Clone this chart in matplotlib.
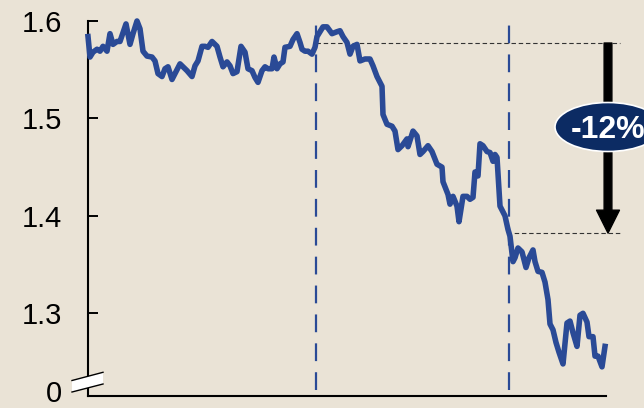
import numpy as np
import matplotlib
matplotlib.use("Agg")
import matplotlib.pyplot as plt
import matplotlib.patches as mpatches
from matplotlib.lines import Line2D

plt.rcParams['font.family'] = ['Liberation Sans', 'DejaVu Sans']

# Weekly series (week index, value)
weeks = [0, 0.5, 1.25, 2.25, 3, 3.75, 4.75, 5.5, 6.25, 7.25, 8, 9.5, 10.5, 11.25, 12.25,
         13, 13.75, 14.75, 16, 16.75, 17.5, 18.5, 19.25, 20, 21, 21.75, 23, 23.75, 24.75,
         26, 26.75, 27.5, 28.5, 29.25, 30, 31, 32.25, 33, 33.75, 34.75, 35.5, 36.25, 37.25,
         38.25, 39.25, 40, 41, 41.75, 42.5, 43.5, 44.25, 45, 46, 46.5, 47.25, 48, 48.75,
         49.25, 50.5, 51.25, 52.25, 53, 53.5, 54.25, 55, 56, 56.75, 57.25, 58, 58.75, 59.75,
         61, 62.25, 63, 63.75, 64.75, 65.5, 66.25, 67.25, 68, 69.25, 70.5, 71.25, 72.25,
         73.5, 73.75, 74.75, 76, 76.75, 77.5, 78.5, 79.75, 80, 81.25, 82.25, 83, 83.75, 85,
         86, 87.25, 88.5, 88.75, 90, 90.5, 91.25, 92.25, 92.75, 93.75, 94.75, 95.5, 96.25,
         96.75, 97.5, 98, 98.75, 99.75, 100.5, 101.25, 101.75, 102.25, 103, 104.25, 105,
         105.5, 106.25, 106.75, 107.5, 108.5, 109.5, 110.25, 111.25, 111.75, 112.5, 113.5,
         114.25, 115, 115.5, 116.25, 117, 117.75, 118.75, 119.75, 120.5, 121.25, 122.25,
         123, 123.75, 124.75, 125.25, 126.25, 126.75, 127.5, 128.5, 129.25]
values = [1.584, 1.563, 1.568, 1.571, 1.569, 1.574, 1.569, 1.587, 1.576, 1.579, 1.579, 1.597,
          1.576, 1.587, 1.600, 1.592, 1.569, 1.564, 1.563, 1.559, 1.546, 1.543, 1.551, 1.553,
          1.540, 1.546, 1.556, 1.553, 1.549, 1.543, 1.554, 1.559, 1.574, 1.574, 1.573, 1.579,
          1.574, 1.563, 1.553, 1.558, 1.554, 1.546, 1.548, 1.574, 1.568, 1.551, 1.549, 1.542,
          1.537, 1.549, 1.553, 1.551, 1.551, 1.563, 1.551, 1.556, 1.558, 1.573, 1.574, 1.581,
          1.587, 1.578, 1.571, 1.569, 1.569, 1.566, 1.573, 1.584, 1.589, 1.594, 1.594, 1.587,
          1.589, 1.590, 1.584, 1.578, 1.566, 1.574, 1.576, 1.559, 1.561, 1.561, 1.554, 1.543,
          1.533, 1.504, 1.494, 1.492, 1.487, 1.468, 1.472, 1.479, 1.471, 1.487, 1.482, 1.463,
          1.466, 1.472, 1.466, 1.453, 1.450, 1.435, 1.422, 1.412, 1.420, 1.410, 1.394, 1.420,
          1.420, 1.417, 1.419, 1.445, 1.441, 1.474, 1.472, 1.466, 1.465, 1.456, 1.463, 1.460,
          1.410, 1.400, 1.386, 1.379, 1.353, 1.357, 1.367, 1.363, 1.347, 1.357, 1.365, 1.353,
          1.343, 1.342, 1.332, 1.314, 1.289, 1.283, 1.270, 1.260, 1.248, 1.290, 1.292, 1.280,
          1.266, 1.298, 1.300, 1.291, 1.276, 1.276, 1.256, 1.256, 1.245, 1.266]

event_weeks = [57, 105.25]
level_start = 1.5774
level_end = 1.3823
level_start_week = 57
level_end_week = 104.75

ytick_values = [1.3, 1.4, 1.5, 1.6]
ytick_labels = ['1.3', '1.4', '1.5', '1.6']
y_bottom = 1.2154  # axis break: bottom of the axis stands for 0

bg = '#EAE3D6'
blue = '#2A4A96'
navy = '#0C2B63'

fig = plt.figure(figsize=(6.44, 4.08), dpi=100, facecolor=bg)
ax = fig.add_axes([88 / 644, 1 - 395.7 / 408, (606 - 88) / 644, (395.7 - 21) / 408])
ax.set_facecolor(bg)
ax.set_xlim(0, 129.5)
ax.set_ylim(y_bottom, 1.6)

# Event markers
for w in event_weeks:
    ax.plot([w, w], [1.221, 1.6], color=blue, lw=1.6, dashes=(8, 5), zorder=2, clip_on=False)

# Reference levels
ax.plot([level_start_week, 133], [level_start, level_start], color='#333333', lw=0.8,
        dashes=(4, 2.5), clip_on=False, zorder=2)
ax.plot([level_end_week, 133], [level_end, level_end], color='#333333', lw=0.8,
        dashes=(4, 2.5), clip_on=False, zorder=2)

ax.plot(weeks, values, color=blue, lw=4.0, solid_joinstyle='round', clip_on=False, zorder=3)

# Decline arrow
ax.annotate('', xy=(130, level_end), xytext=(130, level_start),
            arrowprops=dict(arrowstyle='simple,tail_width=5.6,head_width=16.5,head_length=16.5',
                            mutation_scale=1, color='black', shrinkA=0, shrinkB=0),
            annotation_clip=False, zorder=4)

pct = round((level_end / level_start - 1) * 100)
ell = mpatches.Ellipse((608 / 644, 1 - 127 / 408), 106 / 644, 49 / 408,
                       transform=fig.transFigure, facecolor=navy, edgecolor='white',
                       lw=1.2, zorder=5)
fig.patches.append(ell)
fig.text(608 / 644, 1 - 127 / 408, f'{pct}%', color='white', fontsize=23,
         fontweight='bold', ha='center', va='center_baseline', zorder=6)

# Axes styling
for s in ['top', 'right']:
    ax.spines[s].set_visible(False)
for s in ['left', 'bottom']:
    ax.spines[s].set_linewidth(1.5)
    ax.spines[s].set_color('black')
ax.set_xticks([])
ax.set_yticks([y_bottom] + ytick_values)
ax.set_yticklabels([''] + ytick_labels)
ax.tick_params(axis='y', direction='in', length=7.5, width=1.4, pad=18.5,
               labelsize=21, colors='black')

# Zero label at the broken foot of the axis
fig.text(62 / 644, 1 - 407.5 / 408, '0', fontsize=21, ha='right', va='bottom')

# Axis break symbol
def fx(px):
    return px / 644

def fy(py):
    return 1 - py / 408

brk = mpatches.Polygon([(fx(72), fy(380.5)), (fx(103), fy(372.3)),
                        (fx(103), fy(384)), (fx(72), fy(392))],
                       closed=True, transform=fig.transFigure, facecolor='white',
                       edgecolor='none', zorder=10)
fig.patches.append(brk)
fig.lines.append(Line2D([fx(72), fx(103)], [fy(380.5), fy(372.3)], transform=fig.transFigure,
                        color='black', lw=1.0, zorder=11))
fig.lines.append(Line2D([fx(72), fx(103)], [fy(392), fy(384)], transform=fig.transFigure,
                        color='black', lw=1.0, zorder=11))

fig.savefig('out.png', dpi=100, facecolor=bg)
